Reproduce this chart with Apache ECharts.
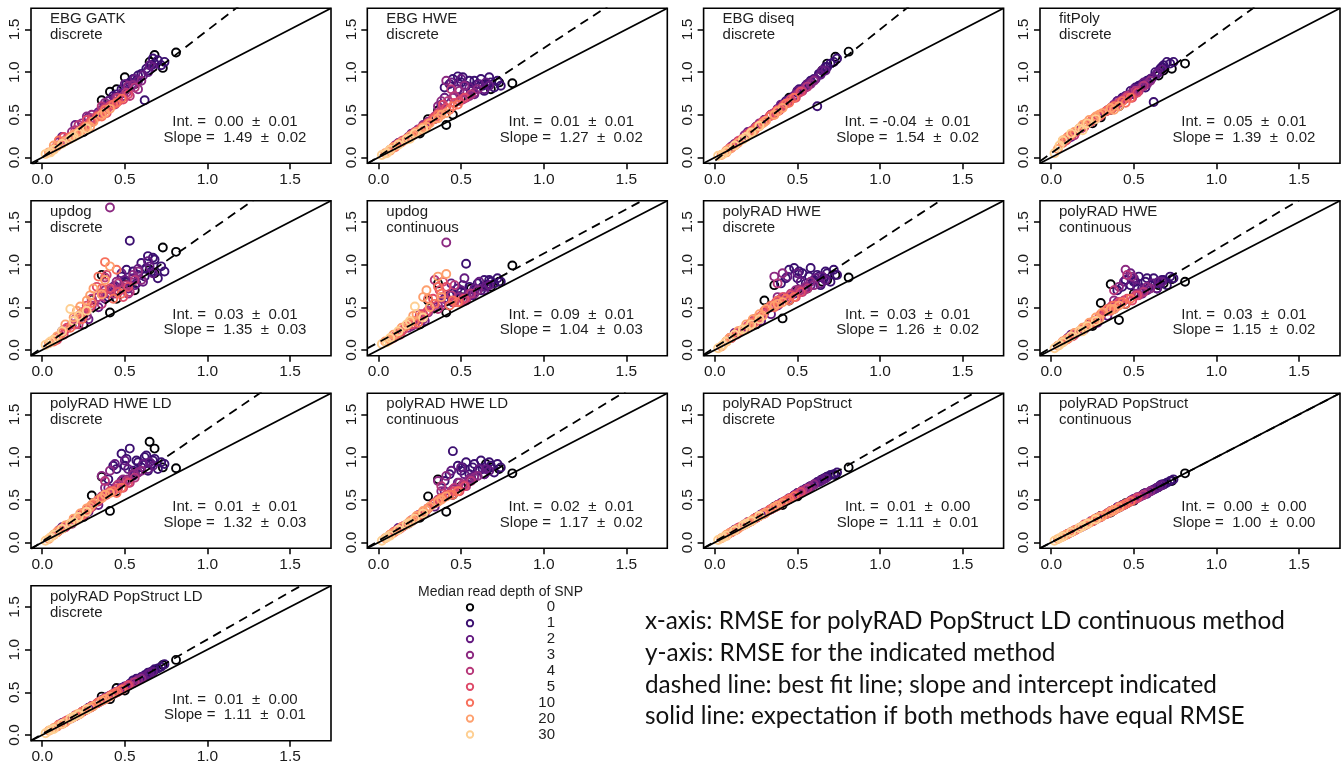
<!DOCTYPE html>
<html><head><meta charset="utf-8">
<script src="https://cdn.jsdelivr.net/npm/echarts@6/dist/echarts.min.js"></script>
<style>html,body{margin:0;padding:0;background:#fff}#c{width:1342px;height:765px}</style>
</head><body><div id="c"></div>
<script>
// ---------------- DATA ----------------
const depthLabels = ['0','1','2','3','4','5','10','20','30'];
const depthColors = ['#000004','#3B0F70','#641A80','#8C2981','#B73779','#DE4968','#F7705C','#FE9F6D','#FECF92'];
const tickValues = [0, 0.5, 1.0, 1.5];
const tickLabels = ['0.0', '0.5', '1.0', '1.5'];

// x: RMSE for polyRAD PopStruct LD continuous (shared by every panel)
const xRMSE = [
  0.30,0.36,0.41,0.50,0.56,0.65,0.73,0.81,
  0.40,0.45,0.48,0.50,0.53,0.55,0.57,0.60,0.62,0.64,0.66,0.68,0.70,0.72,
  0.12,0.28,0.34,0.38,0.44,0.48,0.52,0.55,0.58,0.61,0.64,0.67,
  0.10,0.18,0.24,0.30,0.36,0.41,0.45,0.49,0.55,0.60,
  0.14,0.20,0.25,0.30,0.34,0.38,0.42,0.46,0.51,0.56,
  0.09,0.15,0.20,0.25,0.29,0.33,0.37,0.41,0.46,0.52,
  0.07,0.12,0.17,0.22,0.26,0.30,0.34,0.38,0.43,0.48,
  0.04,0.09,0.14,0.19,0.23,0.27,0.31,0.36,0.41,
  0.02,0.07,0.12,0.17,0.22,0.27,
  0.25,0.45,0.68,
  0.43,0.51,0.58,0.63,0.67,0.74,
  0.20,0.40,0.50,0.56,0.65,
  0.27,0.38,0.52,0.58,
  0.22,0.36,0.44,0.53,
  0.13,0.27,0.39,0.49,
  0.10,0.24,0.36,0.45,
  0.07,0.21,0.29,0.38,
  0.05,0.19
];
const depthIndex = [
  0,0,0,0,0,0,0,0,
  1,1,1,1,1,1,1,1,1,1,1,1,1,1,
  2,2,2,2,2,2,2,2,2,2,2,2,
  3,3,3,3,3,3,3,3,3,3,
  4,4,4,4,4,4,4,4,4,4,
  5,5,5,5,5,5,5,5,5,5,
  6,6,6,6,6,6,6,6,6,6,
  7,7,7,7,7,7,7,7,7,
  8,8,8,8,8,8,
  0,0,0,
  1,1,1,1,1,1,
  2,2,2,2,2,
  3,3,3,3,
  4,4,4,4,
  5,5,5,5,
  6,6,6,6,
  7,7,7,7,
  8,8
];

const yEBG_GATK_discrete = [
  0.42,0.67,0.77,0.94,0.86,1.12,1.05,1.23,
  0.66,0.74,0.80,0.78,0.88,0.92,0.90,0.98,0.67,1.02,1.08,1.10,1.14,1.08,
  0.24,0.47,0.53,0.60,0.70,0.75,0.82,0.86,0.90,0.96,1.00,1.06,
  0.18,0.30,0.40,0.50,0.56,0.62,0.70,0.72,0.85,0.90,
  0.20,0.32,0.36,0.46,0.50,0.58,0.62,0.70,0.76,0.82,
  0.14,0.22,0.28,0.36,0.42,0.48,0.54,0.60,0.66,0.74,
  0.10,0.17,0.24,0.30,0.36,0.42,0.48,0.56,0.62,0.69,
  0.06,0.13,0.19,0.27,0.31,0.36,0.42,0.50,0.57,
  0.04,0.09,0.16,0.22,0.28,0.34,
  0.30,0.80,1.20,
  0.72,0.86,0.96,1.04,1.16,1.12,
  0.38,0.66,0.86,0.92,1.08,
  0.48,0.64,0.84,0.80,
  0.38,0.60,0.62,0.72,
  0.24,0.44,0.52,0.68,
  0.20,0.32,0.48,0.64,
  0.14,0.28,0.36,0.52,
  0.06,0.24
];
const yEBG_HWE_discrete = [
  0.45,0.55,0.38,0.70,0.78,0.86,0.88,0.87,
  0.82,0.92,0.95,0.88,0.84,0.90,0.80,0.86,0.92,0.78,0.85,0.88,0.82,0.90,
  0.17,0.38,0.45,0.62,0.88,0.80,0.76,0.82,0.74,0.86,0.80,0.84,
  0.14,0.24,0.33,0.42,0.60,0.90,0.70,0.78,0.72,0.80,
  0.19,0.27,0.33,0.40,0.48,0.56,0.66,0.72,0.68,0.74,
  0.12,0.20,0.26,0.33,0.38,0.46,0.52,0.58,0.64,0.70,
  0.09,0.16,0.22,0.29,0.34,0.40,0.45,0.50,0.56,0.62,
  0.05,0.12,0.18,0.25,0.30,0.35,0.40,0.46,0.52,
  0.03,0.09,0.15,0.21,0.28,0.33,
  0.28,0.50,0.80,
  0.86,0.94,0.90,0.84,0.94,0.84,
  0.28,0.70,0.92,0.78,0.88,
  0.38,0.66,0.84,0.76,
  0.30,0.52,0.80,0.70,
  0.17,0.36,0.62,0.66,
  0.12,0.30,0.50,0.60,
  0.08,0.26,0.36,0.50,
  0.05,0.22
];
const yEBG_diseq_discrete = [
  0.44,0.52,0.62,0.78,0.86,1.02,1.18,1.24,
  0.60,0.68,0.72,0.76,0.80,0.84,0.86,0.92,0.60,0.98,1.02,1.06,1.10,1.12,
  0.16,0.40,0.50,0.57,0.66,0.72,0.78,0.83,0.88,0.92,0.97,1.02,
  0.13,0.26,0.34,0.44,0.52,0.60,0.66,0.73,0.82,0.90,
  0.19,0.28,0.36,0.43,0.50,0.56,0.62,0.68,0.76,0.83,
  0.11,0.20,0.27,0.35,0.42,0.48,0.54,0.60,0.68,0.77,
  0.08,0.14,0.22,0.30,0.36,0.42,0.49,0.55,0.63,0.70,
  0.03,0.10,0.17,0.24,0.30,0.37,0.43,0.50,0.58,
  0.02,0.07,0.14,0.21,0.29,0.37,
  0.36,0.70,1.10,
  0.66,0.80,0.90,0.98,1.06,1.16,
  0.30,0.62,0.78,0.86,1.02,
  0.40,0.56,0.78,0.86,
  0.31,0.52,0.64,0.78,
  0.16,0.38,0.55,0.70,
  0.11,0.32,0.50,0.64,
  0.06,0.27,0.40,0.54,
  0.04,0.24
];
const yFitPoly_discrete = [
  0.47,0.56,0.60,0.76,0.84,0.96,1.04,1.10,
  0.66,0.72,0.78,0.74,0.84,0.86,0.82,0.92,0.65,0.98,1.04,1.08,1.12,1.10,
  0.24,0.48,0.55,0.60,0.70,0.74,0.80,0.84,0.88,0.93,0.98,1.03,
  0.22,0.34,0.42,0.50,0.58,0.64,0.70,0.76,0.83,0.90,
  0.26,0.36,0.44,0.50,0.55,0.60,0.66,0.72,0.78,0.84,
  0.20,0.30,0.36,0.44,0.48,0.54,0.58,0.64,0.70,0.76,
  0.17,0.26,0.34,0.40,0.46,0.50,0.55,0.60,0.66,0.70,
  0.10,0.22,0.30,0.38,0.44,0.48,0.52,0.58,0.60,
  0.05,0.20,0.28,0.34,0.40,0.45,
  0.40,0.70,1.02,
  0.70,0.82,0.90,1.00,1.06,1.12,
  0.38,0.66,0.80,0.88,1.00,
  0.46,0.62,0.78,0.86,
  0.40,0.58,0.68,0.78,
  0.28,0.46,0.60,0.70,
  0.24,0.42,0.56,0.64,
  0.20,0.40,0.50,0.56,
  0.14,0.32
];
const yUpdog_discrete = [
  0.59,0.88,0.44,0.77,0.70,0.94,1.20,1.15,
  0.62,0.70,0.86,0.80,1.28,0.92,0.78,1.02,0.86,1.10,0.92,1.06,0.84,0.98,
  0.22,0.36,0.50,0.60,0.75,0.90,0.72,0.84,0.95,0.80,1.04,0.90,
  0.16,0.30,0.44,0.52,0.66,1.67,0.80,0.72,0.88,0.82,
  0.24,0.36,0.40,0.60,0.62,0.85,0.70,0.78,0.76,0.82,
  0.12,0.26,0.30,0.42,0.50,0.74,0.66,0.72,0.68,0.74,
  0.10,0.20,0.26,0.40,0.46,0.55,0.86,1.03,0.60,0.66,
  0.08,0.16,0.30,0.38,0.51,0.58,0.72,0.65,0.98,
  0.06,0.12,0.22,0.48,0.40,0.46,
  0.30,0.60,0.90,
  0.74,0.94,0.88,0.96,1.08,0.92,
  0.30,0.66,0.82,0.76,0.98,
  0.40,0.70,0.66,0.92,
  0.30,0.54,0.66,0.68,
  0.18,0.52,0.88,0.62,
  0.16,0.36,0.72,0.94,
  0.12,0.46,0.64,0.82,
  0.10,0.34
];
const yUpdog_continuous = [
  0.58,0.78,0.44,0.62,0.72,0.76,0.80,0.99,
  0.60,0.66,0.72,0.68,1.01,0.74,0.64,0.78,0.70,0.82,0.76,0.80,0.78,0.84,
  0.20,0.34,0.50,0.55,0.78,0.62,0.84,0.66,0.72,0.80,0.70,0.76,
  0.16,0.26,0.36,0.44,0.52,1.26,0.56,0.62,0.66,0.70,
  0.22,0.30,0.42,0.46,0.82,0.52,0.58,0.76,0.60,0.66,
  0.14,0.24,0.30,0.38,0.44,0.60,0.70,0.74,0.56,0.60,
  0.12,0.20,0.28,0.34,0.40,0.60,0.54,0.66,0.52,0.56,
  0.10,0.18,0.26,0.32,0.42,0.62,0.50,0.86,0.89,
  0.07,0.14,0.22,0.30,0.51,0.38,
  0.30,0.56,0.74,
  0.64,0.76,0.70,0.74,0.82,0.80,
  0.28,0.60,0.70,0.64,0.74,
  0.36,0.62,0.58,0.66,
  0.30,0.48,0.64,0.58,
  0.18,0.42,0.80,0.56,
  0.16,0.32,0.74,0.58,
  0.12,0.40,0.70,0.62,
  0.09,0.34
];
const yPolyRAD_HWE_discrete = [
  0.58,0.76,0.37,0.70,0.72,0.80,0.88,0.85,
  0.78,0.94,0.96,0.84,0.90,0.78,0.86,0.82,0.88,0.76,0.84,0.90,0.80,0.94,
  0.20,0.34,0.42,0.52,0.86,0.66,0.80,0.72,0.76,0.84,0.78,0.82,
  0.14,0.24,0.36,0.44,0.86,0.90,0.62,0.70,0.74,0.76,
  0.20,0.28,0.34,0.44,0.50,0.78,0.62,0.66,0.70,0.72,
  0.14,0.22,0.28,0.36,0.42,0.50,0.56,0.62,0.64,0.68,
  0.10,0.18,0.24,0.32,0.38,0.46,0.52,0.58,0.60,0.62,
  0.04,0.14,0.22,0.30,0.36,0.42,0.48,0.52,0.56,
  0.02,0.10,0.18,0.24,0.30,0.36,
  0.30,0.58,0.82,
  0.84,0.92,0.96,0.86,0.92,0.88,
  0.26,0.60,0.90,0.74,0.86,
  0.36,0.62,0.70,0.80,
  0.30,0.52,0.60,0.68,
  0.18,0.38,0.54,0.62,
  0.14,0.32,0.50,0.58,
  0.10,0.28,0.40,0.54,
  0.06,0.24
];
const yPolyRAD_HWE_continuous = [
  0.55,0.77,0.35,0.66,0.70,0.76,0.83,0.80,
  0.70,0.82,0.76,0.80,0.86,0.72,0.80,0.76,0.84,0.72,0.78,0.82,0.76,0.86,
  0.18,0.32,0.40,0.48,0.80,0.90,0.74,0.66,0.70,0.78,0.72,0.80,
  0.14,0.22,0.32,0.40,0.50,0.74,0.94,0.86,0.68,0.72,
  0.18,0.26,0.32,0.40,0.46,0.70,0.56,0.88,0.64,0.68,
  0.12,0.20,0.26,0.32,0.38,0.46,0.52,0.56,0.60,0.64,
  0.10,0.16,0.22,0.28,0.34,0.42,0.48,0.52,0.56,0.60,
  0.05,0.12,0.20,0.26,0.32,0.38,0.44,0.48,0.52,
  0.02,0.09,0.16,0.22,0.28,0.34,
  0.28,0.54,0.78,
  0.74,0.80,0.84,0.78,0.82,0.84,
  0.24,0.56,0.84,0.70,0.80,
  0.34,0.58,0.66,0.74,
  0.28,0.48,0.58,0.64,
  0.16,0.34,0.50,0.58,
  0.13,0.30,0.46,0.54,
  0.09,0.26,0.36,0.48,
  0.06,0.22
];
const yPolyRAD_HWELD_discrete = [
  0.55,0.77,0.37,0.72,0.82,1.18,0.88,0.87,
  0.74,0.86,1.04,0.90,1.10,0.84,0.96,0.88,1.00,0.84,0.92,0.98,0.86,0.94,
  0.18,0.36,0.44,0.56,0.92,0.72,0.86,0.78,0.82,0.92,0.86,0.90,
  0.14,0.22,0.34,0.42,0.78,0.84,0.66,0.74,0.80,0.84,
  0.18,0.28,0.32,0.42,0.48,0.72,0.60,0.68,0.72,0.76,
  0.12,0.20,0.26,0.34,0.40,0.48,0.54,0.60,0.64,0.70,
  0.09,0.16,0.22,0.30,0.36,0.44,0.50,0.56,0.60,0.64,
  0.04,0.12,0.20,0.28,0.34,0.40,0.46,0.52,0.58,
  0.02,0.09,0.16,0.22,0.30,0.36,
  0.30,0.60,1.10,
  0.90,0.98,0.94,1.02,0.96,0.92,
  0.26,0.64,0.96,0.80,0.94,
  0.36,0.64,0.74,0.82,
  0.30,0.54,0.62,0.70,
  0.17,0.38,0.56,0.64,
  0.14,0.32,0.52,0.58,
  0.09,0.28,0.42,0.56,
  0.06,0.24
];
const yPolyRAD_HWELD_continuous = [
  0.54,0.74,0.36,0.66,0.76,0.92,0.86,0.81,
  0.72,1.07,0.90,0.84,0.94,0.80,0.88,0.84,0.96,0.80,0.86,0.90,0.82,0.92,
  0.17,0.34,0.42,0.52,0.84,0.70,0.80,0.74,0.78,0.86,0.80,0.84,
  0.13,0.22,0.32,0.40,0.72,0.78,0.62,0.70,0.74,0.78,
  0.18,0.26,0.32,0.40,0.46,0.66,0.56,0.64,0.68,0.72,
  0.12,0.19,0.25,0.32,0.38,0.45,0.50,0.56,0.60,0.66,
  0.09,0.15,0.21,0.28,0.34,0.40,0.46,0.52,0.56,0.60,
  0.05,0.11,0.18,0.25,0.31,0.37,0.42,0.48,0.54,
  0.02,0.08,0.15,0.21,0.28,0.34,
  0.29,0.56,0.88,
  0.80,0.88,0.92,0.86,0.94,0.88,
  0.25,0.60,0.88,0.76,0.86,
  0.34,0.60,0.68,0.76,
  0.28,0.50,0.60,0.66,
  0.16,0.35,0.52,0.60,
  0.13,0.30,0.48,0.56,
  0.09,0.26,0.38,0.50,
  0.06,0.23
];
const yPolyRAD_PopStruct_discrete = [
  0.34,0.42,0.44,0.54,0.62,0.74,0.79,0.88,
  0.46,0.51,0.55,0.58,0.61,0.63,0.65,0.68,0.71,0.73,0.75,0.77,0.79,0.80,
  0.15,0.33,0.39,0.44,0.50,0.55,0.59,0.62,0.66,0.69,0.72,0.75,
  0.12,0.21,0.28,0.35,0.41,0.47,0.52,0.56,0.62,0.68,
  0.17,0.24,0.29,0.35,0.39,0.44,0.48,0.52,0.58,0.63,
  0.11,0.18,0.23,0.29,0.33,0.38,0.42,0.47,0.52,0.59,
  0.08,0.14,0.20,0.25,0.30,0.34,0.39,0.43,0.49,0.54,
  0.05,0.11,0.16,0.22,0.26,0.31,0.35,0.41,0.46,
  0.03,0.08,0.14,0.20,0.25,0.31,
  0.29,0.51,0.77,
  0.49,0.58,0.66,0.71,0.76,0.82,
  0.23,0.46,0.57,0.63,0.73,
  0.31,0.43,0.59,0.65,
  0.25,0.41,0.50,0.60,
  0.15,0.31,0.44,0.55,
  0.12,0.28,0.41,0.51,
  0.09,0.24,0.33,0.43,
  0.06,0.22
];
const yPolyRAD_PopStruct_continuous = [
  0.31,0.35,0.41,0.49,0.57,0.65,0.72,0.81,
  0.41,0.45,0.48,0.51,0.53,0.55,0.58,0.60,0.62,0.64,0.67,0.68,0.70,0.72,
  0.12,0.29,0.34,0.38,0.44,0.49,0.52,0.55,0.58,0.61,0.64,0.67,
  0.10,0.18,0.25,0.30,0.36,0.41,0.45,0.50,0.55,0.60,
  0.14,0.20,0.25,0.31,0.34,0.38,0.42,0.46,0.51,0.56,
  0.09,0.15,0.21,0.25,0.29,0.33,0.37,0.42,0.46,0.52,
  0.07,0.12,0.17,0.22,0.27,0.30,0.34,0.38,0.43,0.48,
  0.04,0.09,0.14,0.19,0.23,0.28,0.31,0.36,0.41,
  0.02,0.07,0.12,0.17,0.22,0.27,
  0.25,0.46,0.68,
  0.44,0.51,0.57,0.63,0.68,0.74,
  0.20,0.41,0.50,0.56,0.65,
  0.27,0.38,0.53,0.58,
  0.22,0.37,0.44,0.53,
  0.13,0.28,0.39,0.49,
  0.10,0.24,0.36,0.45,
  0.07,0.21,0.30,0.38,
  0.05,0.19
];
const yPolyRAD_PopStructLD_discrete = [
  0.33,0.45,0.42,0.52,0.63,0.73,0.82,0.88,
  0.45,0.50,0.55,0.57,0.60,0.64,0.66,0.68,0.70,0.73,0.74,0.77,0.78,0.80,
  0.14,0.32,0.38,0.43,0.50,0.54,0.58,0.61,0.65,0.68,0.71,0.74,
  0.12,0.20,0.27,0.34,0.41,0.46,0.50,0.55,0.61,0.66,
  0.16,0.23,0.28,0.34,0.38,0.43,0.47,0.51,0.57,0.62,
  0.10,0.17,0.22,0.28,0.32,0.37,0.41,0.46,0.51,0.58,
  0.08,0.13,0.19,0.24,0.29,0.33,0.38,0.42,0.48,0.53,
  0.05,0.10,0.15,0.21,0.25,0.30,0.34,0.40,0.45,
  0.02,0.07,0.13,0.19,0.24,0.30,
  0.28,0.55,0.76,
  0.48,0.57,0.65,0.70,0.75,0.83,
  0.22,0.45,0.56,0.62,0.72,
  0.30,0.42,0.58,0.64,
  0.24,0.40,0.49,0.59,
  0.14,0.30,0.43,0.54,
  0.12,0.27,0.40,0.50,
  0.08,0.24,0.32,0.42,
  0.06,0.21
];

const panelY = [yEBG_GATK_discrete, yEBG_HWE_discrete, yEBG_diseq_discrete, yFitPoly_discrete,
  yUpdog_discrete, yUpdog_continuous, yPolyRAD_HWE_discrete, yPolyRAD_HWE_continuous,
  yPolyRAD_HWELD_discrete, yPolyRAD_HWELD_continuous, yPolyRAD_PopStruct_discrete,
  yPolyRAD_PopStruct_continuous, yPolyRAD_PopStructLD_discrete];
const panelMethod = ['EBG GATK','EBG HWE','EBG diseq','fitPoly','updog','updog','polyRAD HWE','polyRAD HWE',
  'polyRAD HWE LD','polyRAD HWE LD','polyRAD PopStruct','polyRAD PopStruct','polyRAD PopStruct LD'];
const panelType = ['discrete','discrete','discrete','discrete','discrete','continuous','discrete','continuous',
  'discrete','continuous','discrete','continuous','discrete'];
const intercepts   = ['0.00','0.01','-0.04','0.05','0.03','0.09','0.03','0.03','0.01','0.02','0.01','0.00','0.01'];
const interceptSE  = ['0.01','0.01','0.01','0.01','0.01','0.01','0.01','0.01','0.01','0.01','0.00','0.00','0.00'];
const slopes       = ['1.49','1.27','1.54','1.39','1.35','1.04','1.26','1.15','1.32','1.17','1.11','1.00','1.11'];
const slopeSE      = ['0.02','0.02','0.02','0.02','0.03','0.03','0.02','0.02','0.03','0.02','0.01','0.00','0.01'];

const legendTitle = 'Median read depth of SNP';
const noteLines = [
  'x-axis: RMSE for polyRAD PopStruct LD continuous method',
  'y-axis: RMSE for the indicated method',
  'dashed line: best fit line; slope and intercept indicated',
  'solid line: expectation if both methods have equal RMSE'
];

// ---------------- LAYOUT ----------------
const AX_MIN = -0.068, AX_MAX = 1.748;
const colLeft = [31, 367.3, 703.6, 1040];
const rowTop = [8.3, 200.8, 393.3, 585.8];
const PW = 300, PH = 155;
const FONT = '"Liberation Sans", Arial, sans-serif';

const chart = echarts.init(document.getElementById('c'), null, {renderer: 'canvas', width: 1342, height: 765});

const grids = [], xAxes = [], yAxes = [], series = [], graphics = [];

// darker depths first, lighter depths drawn over them
const order = xRMSE.map((_, k) => k).sort((a, b) => depthIndex[a] - depthIndex[b]);

function axisDef(i, isY) {
  return {
    type: 'value', gridIndex: i, min: AX_MIN, max: AX_MAX,
    position: isY ? 'left' : 'bottom',
    splitLine: {show: false},
    axisLine: {show: false, onZero: false},
    axisTick: {show: true, inside: false, length: 6, customValues: tickValues, lineStyle: {color: '#000', width: 1.5}},
    axisLabel: {
      show: true, customValues: tickValues, rotate: isY ? 90 : 0, margin: 8,
      formatter: v => { const j = tickValues.findIndex(t => Math.abs(t - v) < 1e-9); return j >= 0 ? tickLabels[j] : ''; },
      color: '#1a1a1a', fontSize: 15.5, fontFamily: FONT, hideOverlap: false
    }
  };
}

panelY.forEach((yv, i) => {
  const r = Math.floor(i / 4), c = i % 4;
  const L = colLeft[c], T = rowTop[r];
  grids.push({left: L, top: T, width: PW, height: PH, show: true, borderColor: '#000', borderWidth: 1.6, backgroundColor: 'rgba(0,0,0,0)'});
  xAxes.push(axisDef(i, false));
  yAxes.push(axisDef(i, true));

  series.push({
    type: 'scatter', xAxisIndex: i, yAxisIndex: i, silent: true, symbol: 'circle', symbolSize: 8, z: 2,
    itemStyle: {color: 'rgba(0,0,0,0)', borderWidth: 1.9, opacity: 1},
    data: order.map(k => ({value: [xRMSE[k], yv[k]], itemStyle: {borderColor: depthColors[depthIndex[k]]}}))
  });
  const b = parseFloat(intercepts[i]), m = parseFloat(slopes[i]);
  series.push({
    type: 'line', xAxisIndex: i, yAxisIndex: i, silent: true, symbol: 'none', clip: true, z: 3,
    lineStyle: {color: '#000', width: 1.8, type: [9, 6]},
    data: [[AX_MIN, b + m * AX_MIN], [AX_MAX, b + m * AX_MAX]]
  });
  series.push({
    type: 'line', xAxisIndex: i, yAxisIndex: i, silent: true, symbol: 'none', clip: true, z: 3,
    lineStyle: {color: '#000', width: 1.8, type: 'solid'},
    data: [[AX_MIN, AX_MIN], [AX_MAX, AX_MAX]]
  });

  graphics.push({
    type: 'text', x: L + 19, y: T + 3, silent: true, z: 10,
    style: {text: panelMethod[i] + '\n' + panelType[i], font: '15px ' + FONT, fill: '#1e1e1e', lineHeight: 16,
      textAlign: 'left', textVerticalAlign: 'top', align: 'left', verticalAlign: 'top'}
  });
  const intTxt = 'Int. = ' + intercepts[i].padStart(5, ' ') + '  \u00b1  ' + interceptSE[i];
  const slTxt = 'Slope = ' + slopes[i].padStart(5, ' ') + '  \u00b1  ' + slopeSE[i];
  graphics.push({
    type: 'text', x: L + 204, y: T + 106, silent: true, z: 10,
    style: {text: intTxt + '\n' + slTxt, font: '15px ' + FONT, fill: '#1e1e1e', lineHeight: 15.5,
      textAlign: 'center', textVerticalAlign: 'top', align: 'center', verticalAlign: 'top'}
  });
});

// legend (drawn as graphic)
graphics.push({type: 'text', x: 500.5, y: 592, silent: true,
  style: {text: legendTitle, font: '14px ' + FONT, fill: '#1e1e1e', textAlign: 'center', textVerticalAlign: 'middle', align: 'center', verticalAlign: 'middle'}});
depthLabels.forEach((lab, j) => {
  const cy = 607.3 + 15.9 * j;
  graphics.push({type: 'circle', silent: true, shape: {cx: 470, cy: cy, r: 3.2},
    style: {fill: 'none', stroke: depthColors[j], lineWidth: 1.9}});
  graphics.push({type: 'text', x: 555, y: cy, silent: true,
    style: {text: lab, font: '15px ' + FONT, fill: '#1e1e1e', textAlign: 'right', textVerticalAlign: 'middle', align: 'right', verticalAlign: 'middle'}});
});

// explanatory note, fitted to the reference width
const NOTE_FONT = 'Lato, "Open Sans", sans-serif';
const cv = document.createElement('canvas').getContext('2d');
cv.font = '100px ' + NOTE_FONT;
const w100 = cv.measureText(noteLines[0]).width || 3000;
const noteSize = Math.min(26, 640 / w100 * 100);
const noteY = [621, 653, 685, 716];
noteLines.forEach((t, j) => {
  graphics.push({type: 'text', x: 645, y: noteY[j], silent: true,
    style: {text: t, font: noteSize.toFixed(2) + 'px ' + NOTE_FONT, fill: '#111', textAlign: 'left', textVerticalAlign: 'middle', align: 'left', verticalAlign: 'middle'}});
});

chart.setOption({
  animation: false,
  backgroundColor: '#fff',
  grid: grids, xAxis: xAxes, yAxis: yAxes, series: series, graphic: graphics
});
</script>
</body></html>
